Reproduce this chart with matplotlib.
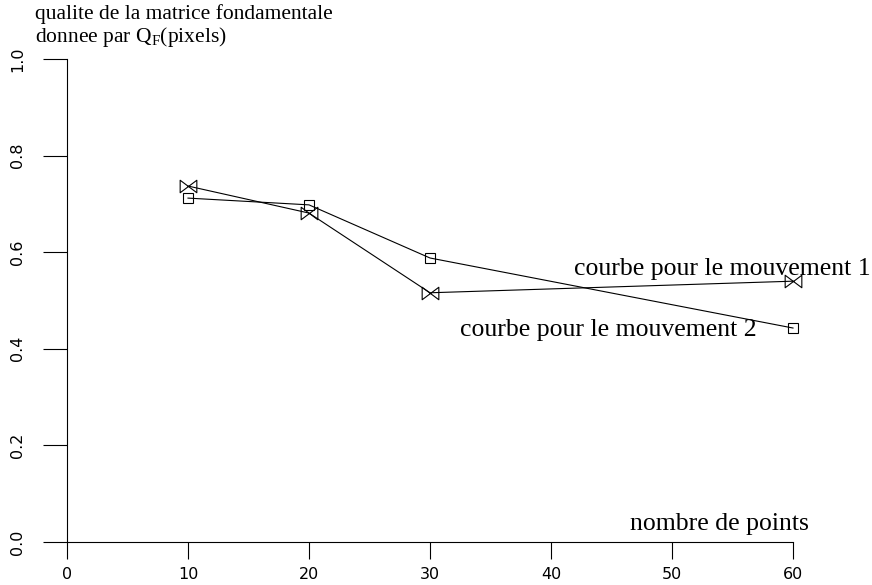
import numpy as np
import matplotlib.pyplot as plt
from matplotlib.path import Path

plt.rcParams["mathtext.fontset"] = "custom"
plt.rcParams["mathtext.rm"] = "Liberation Serif"

# donnees
nb_points = [10, 20, 30, 60]
mouvement1 = [0.737, 0.681, 0.516, 0.540]
mouvement2 = [0.712, 0.698, 0.588, 0.443]
xticks = [0, 10, 20, 30, 40, 50, 60]
yticks = [0.0, 0.2, 0.4, 0.6, 0.8, 1.0]

# marqueur en forme de noeud papillon
bowtie = Path([(-1, 0.75), (1, -0.75), (1, 0.75), (-1, -0.75), (-1, 0.75)],
              [Path.MOVETO, Path.LINETO, Path.LINETO, Path.LINETO, Path.CLOSEPOLY])

fig = plt.figure(figsize=(8.72, 5.85), dpi=100)
ax = fig.add_axes([67 / 872, 43 / 585, 726 / 872, 483 / 585])

ax.plot(nb_points, mouvement1, color="black", lw=0.8, marker=bowtie,
        markersize=12, markerfacecolor="none", markeredgewidth=0.8, clip_on=False)
ax.plot(nb_points, mouvement2, color="black", lw=0.8, marker="s",
        markersize=7, markerfacecolor="none", markeredgewidth=0.8, clip_on=False)

ax.set_xlim(0, 60)
ax.set_ylim(0, 1)
for s in ["top", "right"]:
    ax.spines[s].set_visible(False)
for s in ["left", "bottom"]:
    ax.spines[s].set_linewidth(0.8)

ax.set_xticks(xticks)
ax.set_yticks(yticks)
ax.set_xticklabels([str(v) for v in xticks], fontsize=11.5, family="DejaVu Sans")
ax.set_yticklabels(["%.1f" % v for v in yticks], fontsize=11.5, family="DejaVu Sans",
                   rotation=90, va="center")
ax.tick_params(axis="x", length=12, width=0.8, pad=6)
ax.tick_params(axis="y", length=17, width=0.8, pad=13)

serif = "Liberation Serif"
ax.text(66.4, 0.565, "courbe pour le mouvement 1", ha="right", va="center",
        fontsize=18.5, family=serif, clip_on=False)
ax.text(57.0, 0.438, "courbe pour le mouvement 2", ha="right", va="center",
        fontsize=18.5, family=serif)
ax.text(61.3, 0.037, "nombre de points", ha="right", va="center",
        fontsize=18.5, family=serif, clip_on=False)

fig.text(35 / 872, 1 - 14 / 585, "qualite de la matrice fondamentale",
         ha="left", va="center", fontsize=15.5, family=serif)
fig.text(35 / 872, 1 - 37 / 585, r"donnee par Q$_{\mathrm{F}}$(pixels)",
         ha="left", va="center", fontsize=15.5, family=serif)

fig.savefig("out.png", dpi=100)
